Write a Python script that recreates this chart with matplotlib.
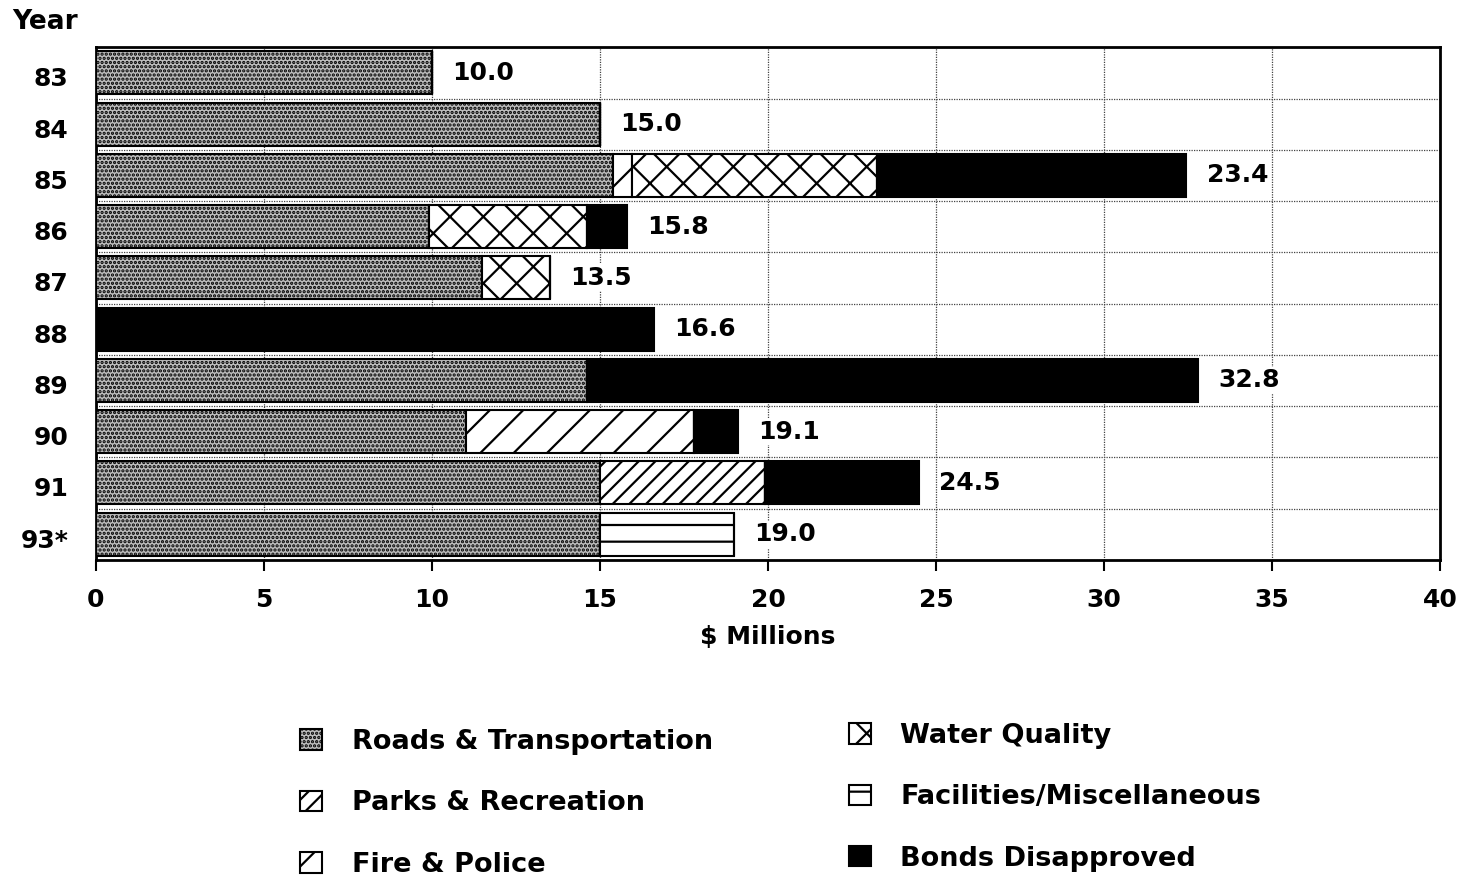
import numpy as np
import matplotlib.pyplot as plt
import matplotlib.transforms as mtransforms
from matplotlib.patches import Patch

plt.rcParams['font.family'] = ['DejaVu Sans']
plt.rcParams['font.weight'] = 'bold'
plt.rcParams['hatch.linewidth'] = 1.6

years = ['83', '84', '85', '86', '87', '88', '89', '90', '91', '93*']
roads = [10.0, 15.0, 15.4, 9.9, 11.5, 0.0, 14.6, 11.0, 15.0, 15.0]
parks = [0, 0, 0, 0, 0, 0, 0, 0, 4.9, 0]
fire = [0, 0, 0.55, 0, 0, 0, 0, 6.8, 0, 0]
water = [0, 0, 7.3, 4.7, 2.0, 0, 0, 0, 0, 0]
facilities = [0, 0, 0, 0, 0, 0, 0, 0, 0, 4.0]
disapproved = [0, 0, 9.2, 1.2, 0, 16.6, 18.2, 1.3, 4.6, 0]
totals = ['10.0', '15.0', '23.4', '15.8', '13.5', '16.6', '32.8', '19.1', '24.5', '19.0']

series = [
    ('Roads & Transportation', roads, '#bdbdbd', '....'),
    ('Parks & Recreation', parks, 'white', '//'),
    ('Fire & Police', fire, 'white', '/'),
    ('Water Quality', water, 'white', 'x'),
    ('Facilities/Miscellaneous', facilities, 'white', '-'),
    ('Bonds Disapproved', disapproved, 'black', None),
]

fig = plt.figure(figsize=(14.63, 8.76), dpi=100)
ax = fig.add_axes([0.0656, 0.361, 0.9187, 0.585])

y = np.arange(len(years))
left = np.zeros(len(years))
handles = []
for name, vals, fc, hatch in series:
    vals = np.array(vals, dtype=float)
    ax.barh(y, vals, left=left, height=0.84, color=fc, edgecolor='black',
            linewidth=1.5, hatch=hatch, zorder=3)
    left += vals
    handles.append(Patch(facecolor=fc, edgecolor='black', hatch=hatch, linewidth=1.5, label=name))

for i, t in enumerate(totals):
    ax.text(left[i] + 0.6, y[i], t, va='center', ha='left', fontsize=18, fontweight='bold',
            zorder=4, bbox=dict(facecolor='white', edgecolor='none', pad=1))

ax.set_xlim(0, 40)
ax.set_ylim(len(years) - 0.5, -0.5)
ax.set_xticks(np.arange(0, 41, 5))
ax.set_yticks(y)
ax.set_yticklabels(years)
ax.set_yticks(np.arange(-0.5, len(years), 1), minor=True)
ax.tick_params(axis='x', which='major', length=8, width=1.5, direction='out', labelsize=18, pad=12)
ax.tick_params(axis='y', which='both', length=0, labelsize=18, pad=20)
shift = mtransforms.ScaledTranslation(0, -0.04, fig.dpi_scale_trans)
for lab in ax.get_yticklabels():
    lab.set_transform(lab.get_transform() + shift)
ax.grid(axis='x', which='major', color='#444444', linewidth=0.9, linestyle=(0, (1, 1)), zorder=1)
ax.grid(axis='y', which='minor', color='#444444', linewidth=0.9, linestyle=(0, (1, 1)), zorder=1)
for s in ax.spines.values():
    s.set_linewidth(2)
ax.set_xlabel('$ Millions', fontsize=18, fontweight='bold', labelpad=10)

fig.text(0.008, 0.975, 'Year', fontsize=19, fontweight='bold', va='center', ha='left')

leg_kw = dict(frameon=False, fontsize=19.5, handlelength=0.8, handleheight=0.8,
              labelspacing=1.3, handletextpad=1.1, borderpad=0)
fig.legend(handles=handles[:3], loc='upper left', bbox_to_anchor=(0.196, 0.183), **leg_kw)
fig.legend(handles=handles[3:], loc='upper left', bbox_to_anchor=(0.571, 0.19), **leg_kw)

fig.savefig('out.png', dpi=100)
